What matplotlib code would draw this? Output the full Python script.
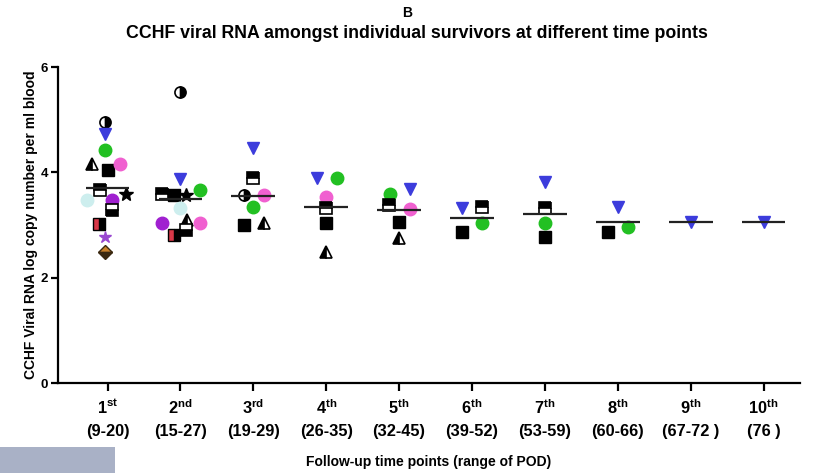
import numpy as np
import matplotlib
matplotlib.use('Agg')
import matplotlib.pyplot as plt
from matplotlib.patches import Rectangle

plt.rcParams['font.family'] = ['Liberation Sans', 'DejaVu Sans']
plt.rcParams['font.weight'] = 'bold'
plt.rcParams['mathtext.fontset'] = 'custom'
plt.rcParams['mathtext.rm'] = 'Liberation Sans:bold'
plt.rcParams['mathtext.it'] = 'Liberation Sans:bold'
plt.rcParams['mathtext.bf'] = 'Liberation Sans:bold'

nan = np.nan

# follow-up time points
ordinals = ['1', '2', '3', '4', '5', '6', '7', '8', '9', '10']
suffixes = ['st', 'nd', 'rd', 'th', 'th', 'th', 'th', 'th', 'th', 'th']
pod_ranges = ['(9-20)', '(15-27)', '(19-29)', '(26-35)', '(32-45)',
              '(39-52)', '(53-59)', '(60-66)', '(67-72 )', '(76 )']

# log copies per ml, one list per survivor (nan = no sample)
surv_halfcircle = [4.96, 5.53, 3.57, nan, nan, nan, nan, nan, nan, nan]
surv_bluetri = [4.74, 3.87, 4.46, 3.89, 3.69, 3.32, 3.81, 3.34, 3.06, 3.06]
surv_green = [4.42, 3.66, 3.34, 3.89, 3.60, 3.04, 3.04, 2.96, nan, nan]
surv_halftri = [4.17, 3.09, 3.04, 2.49, 2.75, nan, nan, nan, nan, nan]
surv_blacksq = [4.04, 3.57, 3.00, 3.04, 3.06, 2.87, 2.77, 2.87, nan, nan]
surv_pink = [4.16, 3.04, 3.57, 3.53, 3.30, nan, nan, nan, nan, nan]
surv_topsq = [3.66, 3.60, 3.89, 3.32, 3.38, 3.34, 3.32, nan, nan, nan]
surv_blackstar = [3.60, 3.57, nan, nan, nan, nan, nan, nan, nan, nan]
surv_cyan = [3.47, 3.32, nan, nan, nan, nan, nan, nan, nan, nan]
surv_purple = [3.47, 3.04, nan, nan, nan, nan, nan, nan, nan, nan]
surv_botsq = [3.28, 2.90, nan, nan, nan, nan, nan, nan, nan, nan]
surv_redsq = [3.03, 2.81, nan, nan, nan, nan, nan, nan, nan, nan]
surv_purplestar = [2.78, nan, nan, nan, nan, nan, nan, nan, nan, nan]
surv_diamond = [2.49, nan, nan, nan, nan, nan, nan, nan, nan, nan]

# group means drawn as horizontal lines
means = [3.71, 3.50, 3.55, 3.35, 3.28, 3.13, 3.22, 3.06, 3.06, 3.06]

# marker style and horizontal scatter of each survivor
styles = [
    (surv_halfcircle, dict(marker='o', ms=8, fillstyle='right', mfc='black', mfcalt='white', mec='black', mew=1.2),
     [-0.03, 0.0, -0.13, 0, 0, 0, 0, 0, 0, 0]),
    (surv_bluetri, dict(marker='v', ms=9, mfc='#3c3cdc', mec='#3c3cdc'),
     [-0.03, 0.0, 0.0, -0.12, 0.15, -0.14, 0.0, 0.0, 0.0, 0.0]),
    (surv_green, dict(marker='o', ms=9, mfc='#22c022', mec='#22c022'),
     [-0.03, 0.27, 0.0, 0.15, -0.12, 0.14, 0.0, 0.14, 0, 0]),
    (surv_halftri, dict(marker='^', ms=9, fillstyle='left', mfc='black', mfcalt='white', mec='black', mew=1.2),
     [-0.21, 0.09, 0.14, 0.0, 0.0, 0, 0, 0, 0, 0]),
    (surv_blacksq, dict(marker='s', ms=8, mfc='black', mec='black'),
     [0.0, -0.09, -0.13, 0.0, 0.0, -0.14, 0.0, -0.14, 0, 0]),
    (surv_pink, dict(marker='o', ms=9, mfc='#f060d0', mec='#f060d0'),
     [0.17, 0.27, 0.14, 0.0, 0.15, 0, 0, 0, 0, 0]),
    (surv_topsq, dict(marker='s', ms=8, fillstyle='top', mfc='black', mfcalt='white', mec='black', mew=1.2),
     [-0.10, -0.25, 0.0, 0.0, -0.14, 0.14, 0.0, 0, 0, 0]),
    (surv_blackstar, dict(marker='*', ms=10, mfc='black', mec='black'),
     [0.25, 0.07, 0, 0, 0, 0, 0, 0, 0, 0]),
    (surv_cyan, dict(marker='o', ms=9, mfc='#cdeeee', mec='#cdeeee'),
     [-0.28, 0.0, 0, 0, 0, 0, 0, 0, 0, 0]),
    (surv_purple, dict(marker='o', ms=9, mfc='#a020d0', mec='#a020d0'),
     [0.06, -0.25, 0, 0, 0, 0, 0, 0, 0, 0]),
    (surv_botsq, dict(marker='s', ms=8, fillstyle='bottom', mfc='black', mfcalt='white', mec='black', mew=1.2),
     [0.06, 0.07, 0, 0, 0, 0, 0, 0, 0, 0]),
    (surv_redsq, dict(marker='s', ms=8, fillstyle='right', mfc='black', mfcalt='#d83848', mec='black', mew=1.0),
     [-0.12, -0.09, 0, 0, 0, 0, 0, 0, 0, 0]),
    (surv_purplestar, dict(marker='*', ms=9, mfc='#9a48d0', mec='#9a48d0'),
     [-0.03, 0, 0, 0, 0, 0, 0, 0, 0, 0]),
    (surv_diamond, dict(marker='D', ms=7, fillstyle='top', mfc='#c8802a', mfcalt='#3a2810', mec='#3a2810', mew=1.0),
     [-0.03, 0, 0, 0, 0, 0, 0, 0, 0, 0]),
]

fig = plt.figure(figsize=(8.19, 4.73), dpi=100)
ax = fig.add_axes([0.0708, 0.190, 0.906, 0.668])

xpos = np.arange(1, len(ordinals) + 1)

for vals, st, jit in styles:
    v = np.array(vals)
    x = xpos + np.array(jit)
    ax.plot(x, v, linestyle='none', zorder=3, **st)

ax.hlines(means, xpos - 0.3, xpos + 0.3, color='#222222', lw=1.6, zorder=4)

ax.set_xlim(0.32, 10.5)
ax.set_ylim(0, 6)
ax.set_yticks([0, 2, 4, 6])
ax.set_xticks(xpos)
ax.set_xticklabels(['%s$^{\\rm %s}$\n%s' % (o, s, p) for o, s, p in zip(ordinals, suffixes, pod_ranges)],
                   fontsize=11.8, fontweight='bold', linespacing=1.6)
for lab in ax.get_yticklabels():
    lab.set_fontsize(9.5)
    lab.set_fontweight('bold')

for side in ['top', 'right']:
    ax.spines[side].set_visible(False)
for side in ['left', 'bottom']:
    ax.spines[side].set_linewidth(1.6)
ax.tick_params(axis='x', length=6, width=1.6, pad=5)
ax.tick_params(axis='y', length=5, width=1.6, pad=2)

ax.set_ylabel('CCHF Viral RNA log copy number per ml blood', fontsize=10, fontweight='bold', labelpad=2)
ax.set_xlabel('Follow-up time points (range of POD)', fontsize=10, fontweight='bold', labelpad=11)

fig.text(0.497, 0.972, 'B', ha='center', va='center', fontsize=10, fontweight='bold')
fig.text(0.509, 0.930, 'CCHF viral RNA amongst individual survivors at different time points',
         ha='center', va='center', fontsize=12.8, fontweight='bold')

# grey block in the lower left corner
fig.patches.append(Rectangle((0, 0), 115 / 819, 26 / 473, transform=fig.transFigure,
                             facecolor='#a9b1c6', edgecolor='none'))

fig.savefig('out.png', dpi=100)
